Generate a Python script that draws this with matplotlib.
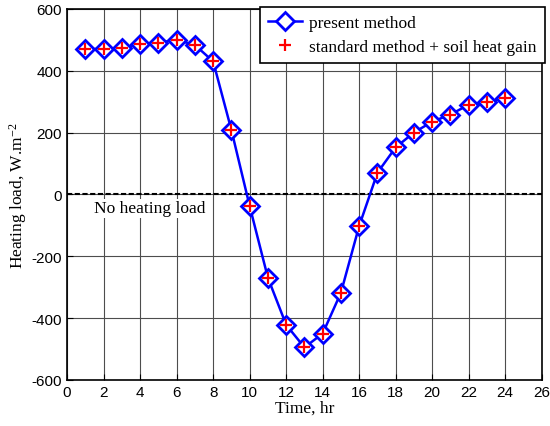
import numpy as np
import matplotlib.pyplot as plt

plt.rcParams['axes.unicode_minus'] = False
plt.rcParams['mathtext.fontset'] = 'custom'
plt.rcParams['mathtext.rm'] = 'Liberation Serif'
plt.rcParams['mathtext.it'] = 'Liberation Serif:italic'

hours = np.arange(1, 25)
present = [470, 470, 473, 487, 490, 500, 483, 430, 208, -38, -270, -422,
           -495, -450, -318, -102, 70, 152, 200, 235, 258, 290, 298, 313]
standard = [470, 470, 473, 487, 490, 500, 483, 430, 208, -38, -270, -422,
            -495, -450, -318, -102, 70, 152, 200, 235, 258, 290, 298, 313]

fig = plt.figure(figsize=(5.5, 4.27), dpi=100)
ax = fig.add_axes([0.122, 0.108, 0.863, 0.869])

ax.grid(True, color='0.3', lw=0.8)
ax.axhline(0, color='k', ls='--', lw=1.5, dashes=(2.5, 1.2), zorder=2)

ax.plot(hours, present, '-D', color='#0000ff', lw=1.8, mfc='white', mec='#0000ff',
        mew=2, ms=8.8, label='present method', zorder=3)
ax.plot(hours, standard, '+', color='red', ms=9, mew=1.6,
        label='standard method + soil heat gain', zorder=4)

ax.set_xlim(0, 26)
ax.set_ylim(-600, 600)
ax.set_xticks(range(0, 27, 2))
ax.set_yticks(range(-600, 601, 200))
ax.tick_params(direction='in', length=4, labelsize=11, width=0.8)
for lab in ax.get_xticklabels() + ax.get_yticklabels():
    lab.set_family('Liberation Sans')
for s in ax.spines.values():
    s.set_linewidth(1.2)

serif = 'Liberation Serif'
ax.set_xlabel('Time, hr', family=serif, fontsize=12.5, labelpad=1)
ax.set_ylabel(r'Heating load, W.m$^{\mathrm{-2}}$', family=serif, fontsize=12.5, labelpad=2)
ax.text(1.5, -45, 'No heating load', family=serif, fontsize=12.5, va='center',
        bbox=dict(facecolor='white', edgecolor='none', pad=1), zorder=3)

leg = ax.legend(loc='upper right', bbox_to_anchor=(1.006, 1.005),
                prop={'family': serif, 'size': 12.5}, fancybox=False,
                framealpha=1, edgecolor='k', borderpad=0.45, labelspacing=0.45,
                handlelength=2.0, handletextpad=0.4, borderaxespad=0)
leg.get_frame().set_linewidth(1.2)

fig.savefig('out.png', dpi=100)
